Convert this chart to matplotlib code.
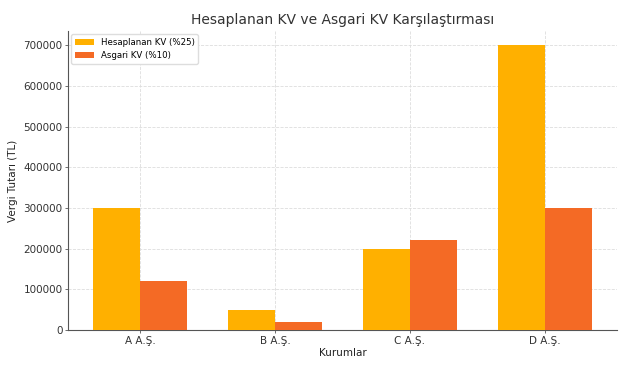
import numpy as np
import matplotlib.pyplot as plt

kurumlar = ['A A.Ş.', 'B A.Ş.', 'C A.Ş.', 'D A.Ş.']
hesaplanan_kv = [300000, 50000, 200000, 700000]
asgari_kv = [120000, 20000, 220000, 300000]

x = np.arange(len(kurumlar))
w = 0.35

fig = plt.figure(figsize=(6.36, 3.65), dpi=100)
ax = fig.add_axes([0.107, 0.096, 0.863, 0.819])

ax.bar(x - w/2, hesaplanan_kv, w, color='#FFB000', label='Hesaplanan KV (%25)', zorder=3)
ax.bar(x + w/2, asgari_kv, w, color='#F46A25', label='Asgari KV (%10)', zorder=3)

ax.set_xticks(x)
ax.set_xticklabels(kurumlar)
ax.tick_params(labelsize=7.5, labelcolor='#333333', length=2.5, width=0.6, pad=1.5, color='#555555')
ax.set_xlabel('Kurumlar', fontsize=7.5, color='#222222', labelpad=1.5)
ax.set_ylabel('Vergi Tutarı (TL)', fontsize=7.5, color='#222222', labelpad=4)
ax.set_title('Hesaplanan KV ve Asgari KV Karşılaştırması', fontsize=10, color='#333333', pad=5)

ax.grid(True, linestyle='--', color='#dddddd', linewidth=0.6, zorder=0)
for s in ['top', 'right']:
    ax.spines[s].set_visible(False)
for s in ['left', 'bottom']:
    ax.spines[s].set_color('#555555')

ax.legend(loc='upper left', fontsize=6.2, framealpha=1, edgecolor='#dddddd',
          borderaxespad=0.4, handlelength=2.2)

fig.savefig('out.png', dpi=100)
